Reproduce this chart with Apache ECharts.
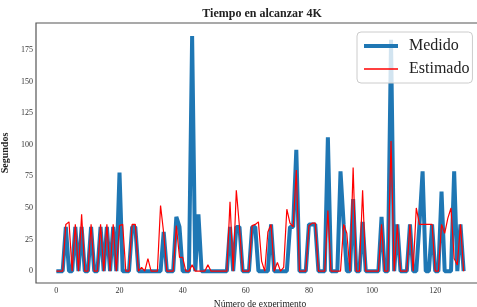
<!DOCTYPE html>
<html>
<head>
<meta charset="utf-8">
<script src="https://cdn.jsdelivr.net/npm/echarts@6/dist/echarts.min.js"></script>
<style>html,body{margin:0;padding:0;background:#fff}#c{width:477px;height:307px}</style>
</head>
<body>
<div id="c"></div>
<script>
var medido = [
0,0,0,35,0,0,35,0,35,0,
0,35,0,0,35,0,35,0,35,0,
78,0,0,0,35,35,0,0,0,0,
0,0,0,0,31,0,0,0,43,35,
0,0,0,186,0,45,0,0,0,0,
0,0,0,0,0,35,0,35,35,0,
0,0,35,35,0,0,0,0,37,0,
0,0,0,0,35,35,96,0,0,0,
37,37,37,0,0,0,106,0,0,0,
79,37,0,0,57,0,0,39,0,0,
0,0,0,43,0,0,183,0,37,0,
0,0,37,0,0,37,79,0,0,37,
0,0,63,0,0,0,79,0,37,0
];
var estimado = [
0,0,0,37,39,0,37,0,45,0,
0,37,0,0,37,0,37,0,37,0,
36,37,0,0,37,37,0,3,0,10,
0,0,0,52,30,0,0,0,36,11,
11,0,0,5,0,0,0,0,5,0,
0,0,0,0,0,55,0,64,35,0,
0,0,36,37,39,8,0,31,37,0,
7,0,3,49,38,35,80,0,0,0,
36,38,38,0,0,0,48,0,0,0,
0,37,30,0,82,0,0,64,0,0,
0,0,0,37,0,0,103,0,37,0,
0,0,37,0,50,37,37,37,37,37,
0,0,37,30,42,50,10,5,37,0
];
var xTicks = [0,20,40,60,80,100,120];
var yTicks = [0,25,50,75,100,125,150,175];
var seriesNames = ['Medido','Estimado'];
var titleText = 'Tiempo en alcanzar 4K';
var xName = 'Número de experimento';
var yName = 'Segundos';

function pts(arr){ return arr.map(function(v,i){ return [i,v]; }); }
var serif = '"Liberation Serif","DejaVu Serif",serif';
var chart = echarts.init(document.getElementById('c'), null, {renderer:'canvas'});
chart.setOption({
  animation:false,
  backgroundColor:'#fff',
  title:{text:titleText,left:257,top:3,textAlign:'center',
    textStyle:{fontFamily:serif,fontSize:12,fontWeight:'bold',color:'#222'}},
  grid:{left:36,top:23,right:-7,bottom:24,outerBoundsMode:'none',containLabel:false,
    show:true,borderColor:'#555',borderWidth:1.2,backgroundColor:'transparent'},
  legend:{orient:'vertical',left:357,top:32,
    padding:[6,3,6,5],itemGap:7,itemWidth:34,itemHeight:14,
    backgroundColor:'rgba(255,255,255,0.8)',borderColor:'#ccc',borderWidth:1,borderRadius:4,
    itemStyle:{opacity:0},
    textStyle:{fontFamily:serif,fontSize:16,color:'#222',padding:[0,0,0,6]},
    data:[{name:seriesNames[0],lineStyle:{width:4}},{name:seriesNames[1],lineStyle:{width:1.3}}]},
  xAxis:{type:'value',min:-6.45,max:135.45,
    name:xName,nameLocation:'middle',nameGap:12,
    nameTextStyle:{fontFamily:serif,fontSize:9.5,color:'#222'},
    axisLine:{show:false},axisTick:{show:false},splitLine:{show:false},
    axisLabel:{customValues:xTicks,fontFamily:serif,fontSize:8,color:'#333',margin:4}},
  yAxis:{type:'value',min:-9.35,max:196.35,
    name:yName,nameLocation:'middle',nameGap:23,nameRotate:90,
    nameTextStyle:{fontFamily:serif,fontSize:10,fontWeight:'bold',color:'#222'},
    axisLine:{show:false},axisTick:{show:false},splitLine:{show:false},
    axisLabel:{customValues:yTicks,fontFamily:serif,fontSize:8,color:'#333',margin:3}},
  series:[
    {name:seriesNames[0],type:'line',data:pts(medido),symbol:'none',
      lineStyle:{color:'#1f77b4',width:4},itemStyle:{color:'#1f77b4'},z:2},
    {name:seriesNames[1],type:'line',data:pts(estimado),symbol:'none',
      lineStyle:{color:'#ff0000',width:1.2},itemStyle:{color:'#ff0000'},z:3}
  ]
});
</script>
</body>
</html>
